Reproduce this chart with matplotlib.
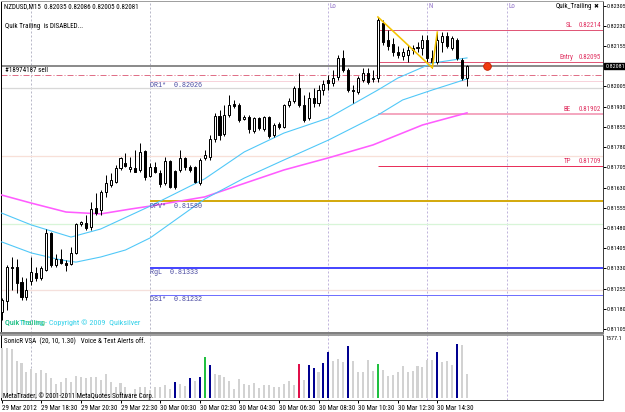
import matplotlib
matplotlib.use("Agg")
import matplotlib.pyplot as plt
import matplotlib.transforms as mtrans
from matplotlib import font_manager
from matplotlib.font_manager import FontProperties
import numpy as np

# ---------------- data (prices in points = 1e-5) ----------------
open_pts = [81168, 81209, 81335, 81335, 81279, 81224, 81283, 81313, 81294, 81324,
            81461, 81342, 81365, 81350, 81346, 81387, 81494, 81498, 81483, 81554,
            81547, 81613, 81639, 81650, 81702, 81721, 81699, 81702, 81695, 81765,
            81673, 81706, 81684, 81647, 81728, 81691, 81695, 81740, 81706, 81706,
            81647, 81740, 81743, 81810, 81895, 81829, 81899, 81940, 81936, 81884,
            81892, 81840, 81888, 81847, 81892, 81825, 81866, 81855, 81936, 81951,
            81999, 81936, 81888, 81962, 81944, 81992, 82029, 82018, 82040, 82111,
            82066, 81992, 81984, 82029, 82055, 82033, 82037, 82241, 82178, 82163,
            82133, 82118, 82122, 82140, 82148, 82148, 82178, 82111, 82096, 82170,
            82192, 82148, 82178, 82103, 82035]
high_pts = [81220, 81342, 81372, 81365, 81298, 81294, 81372, 81335, 81339, 81476,
            81465, 81383, 81402, 81361, 81409, 81498, 81506, 81528, 81576, 81610,
            81621, 81676, 81684, 81714, 81743, 81758, 81743, 81769, 81795, 81769,
            81721, 81725, 81695, 81743, 81732, 81695, 81769, 81743, 81714, 81710,
            81740, 81769, 81825, 81906, 81918, 81936, 81973, 81955, 81944, 81899,
            81899, 81892, 81892, 81895, 81895, 81869, 81873, 81940, 81962, 82007,
            82055, 81973, 81984, 81999, 82010, 82029, 82048, 82066, 82122, 82140,
            82074, 82010, 82044, 82074, 82074, 82066, 82263, 82252, 82215, 82185,
            82155, 82148, 82159, 82159, 82170, 82196, 82196, 82140, 82207, 82207,
            82207, 82192, 82185, 82111, 82086]
low_pts = [81138, 81175, 81250, 81238, 81212, 81212, 81268, 81283, 81287, 81320,
           81335, 81335, 81346, 81320, 81342, 81383, 81487, 81472, 81472, 81528,
           81528, 81595, 81632, 81647, 81695, 81706, 81688, 81688, 81688, 81658,
           81669, 81684, 81632, 81639, 81628, 81624, 81688, 81695, 81688, 81647,
           81639, 81732, 81732, 81799, 81806, 81821, 81892, 81925, 81873, 81881,
           81832, 81832, 81843, 81840, 81814, 81817, 81847, 81851, 81929, 81944,
           81929, 81873, 81881, 81929, 81932, 81973, 81992, 82007, 82029, 82059,
           81984, 81944, 81977, 82022, 82014, 82022, 82022, 82159, 82140, 82118,
           82111, 82103, 82096, 82126, 82133, 82122, 82096, 82074, 82088, 82133,
           82148, 82140, 82103, 82029, 82005]
close_pts = [81212, 81335, 81331, 81276, 81224, 81250, 81316, 81294, 81331, 81461,
             81342, 81365, 81350, 81342, 81387, 81494, 81502, 81480, 81550, 81535,
             81613, 81647, 81658, 81702, 81740, 81710, 81706, 81688, 81762, 81669,
             81706, 81688, 81643, 81728, 81632, 81632, 81740, 81706, 81695, 81650,
             81732, 81751, 81810, 81895, 81825, 81899, 81936, 81932, 81881, 81892,
             81847, 81888, 81851, 81892, 81821, 81862, 81855, 81936, 81951, 81999,
             81936, 81881, 81962, 81944, 81992, 82014, 82018, 82037, 82111, 82066,
             81992, 81988, 82037, 82055, 82022, 82037, 82252, 82170, 82155, 82133,
             82122, 82133, 82140, 82148, 82152, 82178, 82111, 82096, 82178, 82192,
             82155, 82185, 82111, 82035, 82081]

volume = [1300, 1304, 1286, 969, 924, 671, 758, 644, 731, 660,
          528, 362, 422, 512, 422, 581, 554, 528, 539, 539,
          467, 626, 422, 275, 380, 275, 116, 230, 275, 275,
          203, 275, 275, 335, 230, 407, 362, 317, 528, 441,
          539, 1067, 863, 618, 599, 554, 441, 222, 494, 362,
          335, 380, 248, 335, 335, 290, 290, 362, 441, 335,
          882, 467, 863, 776, 686, 908, 1214, 977, 1022, 935,
          1373, 977, 686, 686, 995, 713, 882, 731, 581, 599,
          671, 845, 686, 713, 845, 818, 995, 995, 1199, 935,
          977, 863, 1418, 1391, 618]
vol_blue_bars = [35, 38, 40, 42, 62, 63, 65, 66, 70, 88, 92]
vol_green_bars = [41, 76]
vol_red_bars = [60]

# moving averages (sampled at bar indices)
ma_pink_idx = [0, 6, 13, 20, 26, 30, 41, 48, 57, 66, 75, 85, 94]
ma_pink_pts = [81602, 81572, 81539, 81532, 81550, 81561, 81595, 81639, 81695, 81740, 81788, 81862, 81907]
ma_cyan1_idx = [0, 6, 14, 20, 30, 41, 49, 57, 66, 76, 80, 87, 94]
ma_cyan1_pts = [81535, 81491, 81446, 81476, 81561, 81662, 81762, 81832, 81888, 81992, 82036, 82092, 82111]
ma_cyan2_idx = [0, 6, 12, 15, 20, 25, 30, 41, 49, 57, 66, 76, 81, 87, 94]
ma_cyan2_pts = [81428, 81387, 81361, 81353, 81372, 81398, 81443, 81587, 81665, 81732, 81806, 81899, 81955, 81992, 82033]

zigzag_idx = [76, 87, 88]
zigzag_pts = [82263, 82074, 82207]

# levels
bid = 0.82081
sell_price = 0.82046
trade_levels = {"SL": 0.82214, "Entry": 0.82095, "BE": 0.81902, "TP": 0.81709}
trade_start = 76
pivot_levels = {"DR1*": 0.82026, "DPV*": 0.81580, "RgL": 0.81333, "DS1*": 0.81232}
pivot_start = 30
faint_levels = [0.82000, 0.81747, 0.81496, 0.81248]
dot_idx, dot_price = 98, 0.82081

grid_idx = [6, 30]
session_idx = [66, 86, 102]
session_labels = ["Lo", "N", "Lo"]

price_ticks = [0.82305, 0.82230, 0.82155, 0.82005, 0.81930, 0.81855, 0.81780,
               0.81705, 0.81630, 0.81555, 0.81480, 0.81405, 0.81330, 0.81255,
               0.81180, 0.81105]
time_idx = [0, 8, 16, 24, 32, 40, 48, 56, 64, 72, 80, 88]
time_labels = ["29 Mar 2012", "29 Mar 18:30", "29 Mar 20:30", "29 Mar 22:30",
               "30 Mar 00:30", "30 Mar 02:30", "30 Mar 04:30", "30 Mar 06:30",
               "30 Mar 08:30", "30 Mar 10:30", "30 Mar 12:30", "30 Mar 14:30"]
vol_max_label = "1577.1"

opens = np.array(open_pts) / 1e5
highs = np.array(high_pts) / 1e5
lows = np.array(low_pts) / 1e5
closes = np.array(close_pts) / 1e5

# ---------------- fonts ----------------
avail = {f.name for f in font_manager.fontManager.ttflist}
SANS = None
FS = 4.3
for cand in ["Liberation Sans Narrow", "Roboto Condensed", "Open Sans Condensed", "Arial Narrow"]:
    if cand in avail:
        SANS, FS = [cand, "DejaVu Sans"], 5.0
        break
if SANS is None:
    try:
        fpath = font_manager.findfont(FontProperties(family="DejaVu Sans", stretch="condensed"),
                                      fallback_to_default=False)
    except Exception:
        fpath = ""
    if "Condensed" in fpath:
        SANS, FS = ["DejaVu Sans"], 4.6
        plt.rcParams["font.stretch"] = "condensed"
    else:
        SANS = [f for f in ["Liberation Sans", "DejaVu Sans"] if f in avail]
MONO = [f for f in ["Liberation Mono", "DejaVu Sans Mono"] if f in avail]
FS_AX = FS * 0.87
PX = 0.72

# ---------------- figure ----------------
W, H = 625, 412
fig = plt.figure(figsize=(W / 100, H / 100), dpi=100)
fig.patch.set_facecolor("white")


def fx(px):
    return px / W


def fy(py):
    return 1 - py / H


ax = fig.add_axes([fx(1), fy(333), (603 - 1) / W, (333 - 1) / H])
axv = fig.add_axes([fx(1), fy(400), (603 - 1) / W, (400 - 335) / H])

XL = ((1 - 1.7) / 4.95, (603 - 1.7) / 4.95)
for a in (ax, axv):
    a.set_xlim(*XL)
    a.set_facecolor("white")
ax.set_ylim(0.82326 - 0.00003712 * 333, 0.82326 - 0.00003712 * 1)
axv.set_ylim(-(400 - 397.7) * 26.4, (397.7 - 335) * 26.4)

# vertical dashed lines
for a in (ax, axv):
    for g in grid_idx:
        a.axvline(g, color="#b8b8c8", lw=PX, ls=(0, (2, 2)), zorder=1)
    for s in session_idx:
        a.axvline(s, color="#c0b4dc", lw=PX, ls=(0, (2, 2)), zorder=1)
for s, lab in zip(session_idx, session_labels):
    ax.text(s + 0.3, 1 - 6 / 332, lab, transform=mtrans.blended_transform_factory(ax.transData, ax.transAxes),
            fontsize=FS, family=SANS, color="#9070c8", va="center", ha="left")

# faint full-width levels
faint_cols = ["#d8d8d8", "#f8e0d8", "#d8f5d8", "#f5e0dc"]
for lv, c in zip(faint_levels, faint_cols):
    ax.axhline(lv, color=c, lw=1.3 * PX, zorder=1)

# bid line and sell line
ax.axhline(bid, color="#8c8c8c", lw=2 * PX, zorder=2)
ax.axhline(sell_price, color="#e07088", lw=PX, ls=(0, (6, 2, 1, 2)), zorder=2)

# pivot levels from midnight
piv_cols = {"DR1*": "#f0a8b8", "DPV*": "#d4aa10", "RgL": "#4848ff", "DS1*": "#7070ff"}
piv_lw = {"DR1*": 1.0, "DPV*": 2.0, "RgL": 2.0, "DS1*": 1.0}
piv_ls = {"DR1*": (0, (1, 1)), "DPV*": "-", "RgL": "-", "DS1*": "-"}
for name, lv in pivot_levels.items():
    ax.hlines(lv, pivot_start, XL[1], color=piv_cols[name], lw=piv_lw[name] * PX, ls=piv_ls[name], zorder=2)
    ax.annotate(f"{name}  {lv:.5f}", (pivot_start, lv), xytext=(0, -1.2), textcoords="offset points",
                fontsize=4.9, family=MONO, color="#4848a0", va="top", ha="left", zorder=6)

# trade levels
tr_cols = {"SL": "#e05878", "Entry": "#e05878", "BE": "#f4a8c0", "TP": "#e8305a"}
tr_lw = {"SL": 1.0, "Entry": 1.0, "BE": 2.0, "TP": 1.0}
tr_name_px = {"SL": 566, "Entry": 560, "BE": 563, "TP": 564}
bt = mtrans.blended_transform_factory(ax.transAxes, ax.transData)
for name, lv in trade_levels.items():
    ax.hlines(lv, trade_start, XL[1], color=tr_cols[name], lw=tr_lw[name] * PX, zorder=2)
    ax.annotate(name, ((tr_name_px[name] - 1) / 602, lv), xycoords=bt, xytext=(0, 1.2),
                textcoords="offset points", fontsize=FS, family=SANS, color="#e03060", va="bottom", ha="left")
    ax.annotate(f"{lv:.5f}", ((601 - 1) / 602, lv), xycoords=bt, xytext=(0, 1.2),
                textcoords="offset points", fontsize=FS, family=SANS, color="#e03060", va="bottom", ha="right")

# moving averages
ax.plot(ma_pink_idx, np.array(ma_pink_pts) / 1e5, color="#ff5cff", lw=1.6 * PX, zorder=3)
ax.plot(ma_cyan1_idx, np.array(ma_cyan1_pts) / 1e5, color="#50c8f8", lw=1.1 * PX, zorder=3)
ax.plot(ma_cyan2_idx, np.array(ma_cyan2_pts) / 1e5, color="#50c8f8", lw=1.1 * PX, zorder=3)

# candles
idx = np.arange(len(opens))
up = closes >= opens
ax.vlines(idx, lows, highs, color="black", lw=PX, zorder=4)
body_lo = np.minimum(opens, closes)
body_h = np.maximum(np.abs(closes - opens), 0.000012)
ax.bar(idx, body_h, bottom=body_lo, width=0.42, color=np.where(up, "white", "black"),
       edgecolor="black", linewidth=PX, zorder=5)

# zigzag
ax.plot(zigzag_idx, np.array(zigzag_pts) / 1e5, color="#f5c400", lw=1.6 * PX, zorder=6)

# red dot
ax.plot([dot_idx], [dot_price], "o", ms=5.5, mfc="#f03a10", mec="#c02000", mew=0.6, zorder=7, clip_on=False)

# price axis
ax.yaxis.tick_right()
ax.set_yticks(price_ticks)
ax.set_yticklabels([f"{p:.5f}" for p in price_ticks], fontsize=FS_AX, family=SANS)
ax.tick_params(axis="y", length=2.0, width=PX, pad=0.6, colors="black")
ax.set_xticks([])
for sp in ax.spines.values():
    sp.set_linewidth(PX)
ax.spines["left"].set_color("black")
ax.spines["right"].set_color("#404040")
ax.spines["top"].set_color("#a0a0a0")
ax.spines["bottom"].set_color("#808080")
ax.spines["bottom"].set_linewidth(2 * PX)

# bid price box
ax.annotate(f"{bid:.5f}", (1.0, bid), xycoords=bt, xytext=(1.6, 0), textcoords="offset points",
            fontsize=FS_AX, family=SANS, color="white", va="center", ha="left",
            bbox=dict(boxstyle="square,pad=0.12", fc="black", ec="black"), annotation_clip=False)

# volume bars
vcols = np.array(["#d2d2d2"] * len(volume), dtype=object)
vcols[vol_blue_bars] = "#000090"
vcols[vol_green_bars] = "#20c040"
vcols[vol_red_bars] = "#e0104a"
axv.bar(np.arange(len(volume)), volume, width=0.42, color=list(vcols), zorder=3)
axv.yaxis.tick_right()
axv.set_yticks([1577.1])
axv.set_yticklabels([vol_max_label], fontsize=FS_AX, family=SANS)
axv.tick_params(axis="y", length=0, pad=2)
axv.set_xticks(time_idx)
axv.set_xticklabels(time_labels, fontsize=FS, family=SANS, ha="left")
axv.tick_params(axis="x", length=2.5, width=PX, pad=1.0)
for sp in axv.spines.values():
    sp.set_linewidth(PX)
axv.spines["top"].set_color("#808080")
axv.spines["top"].set_linewidth(1.5 * PX)
axv.spines["left"].set_color("black")
axv.spines["right"].set_color("#404040")
axv.spines["bottom"].set_color("#404040")


# texts
def ptext(x, y, s, **kw):
    fig.text(fx(x), fy(y), s, fontsize=kw.pop("fontsize", FS), family=kw.pop("family", SANS),
             va=kw.pop("va", "center"), ha=kw.pop("ha", "left"), **kw)


ptext(4, 7, "NZDUSD,M15  0.82035 0.82086 0.82005 0.82081")
ptext(5, 27, "Quik Trailing  is DISABLED...")
ptext(5, 71, "#18974187 sell")
ptext(556, 7, "Quik_Trailing")
ptext(594, 7, "\u2716", family=["DejaVu Sans"], fontsize=4.2)
ptext(5, 323, "QuikTrailing - Copyright \u00a9 2009  Quiksilver", color="#30d0e8", fontsize=FS * 1.15)
ptext(5, 323, "Quik Trailing", color="#30c070", fontsize=FS * 1.15)
ptext(4, 341, "SonicR VSA  (20, 10, 1.30)   Voice & Text Alerts off.")
ptext(3, 396, "MetaTrader, \u00a9 2001-2011 MetaQuotes Software Corp.")

fig.savefig("out.png", dpi=100, facecolor="white")
